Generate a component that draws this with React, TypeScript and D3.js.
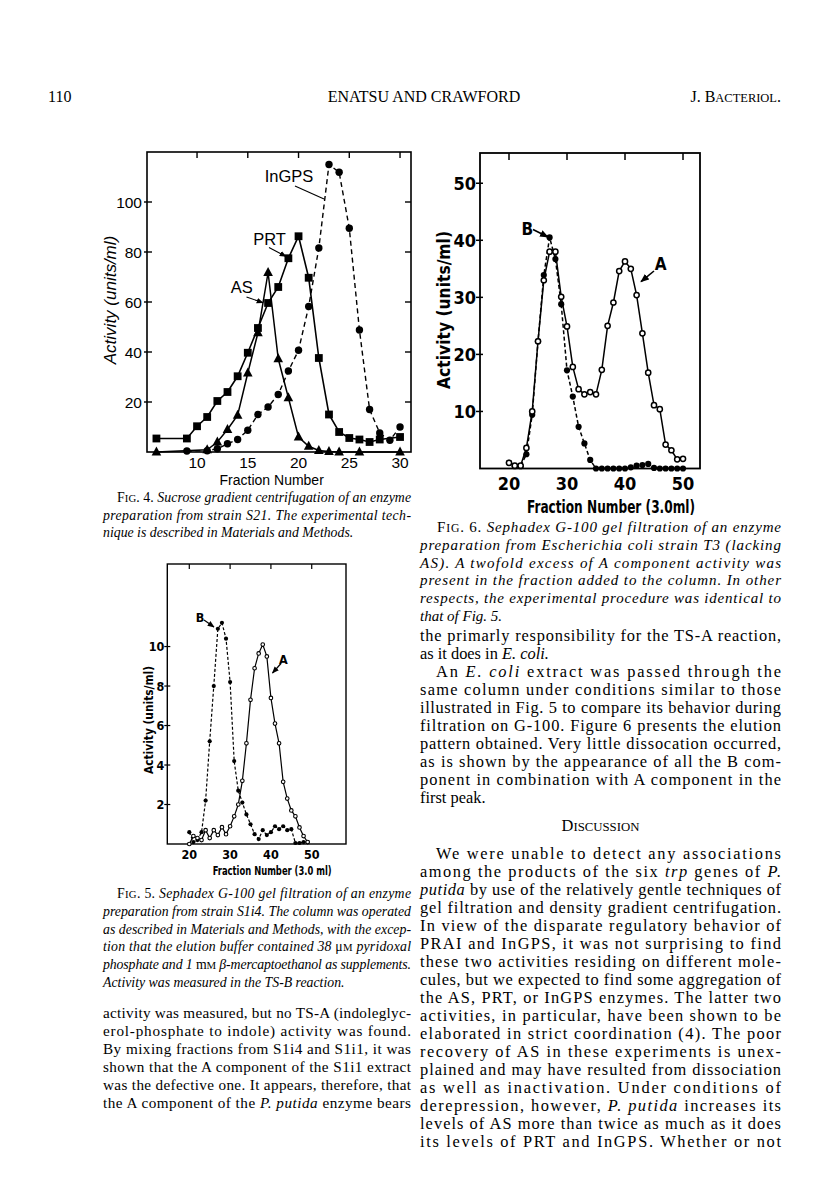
import React from 'react';
import * as d3 from 'd3';

// ---------- Fig. 4 data (sucrose gradient) ----------
const fig4XTicks = [10, 15, 20, 25, 30];
const fig4YTicks = [20, 40, 60, 80, 100];
const asFrac = [6, 11, 12, 13, 14, 15, 16, 17, 18, 19, 20, 21, 22, 23, 24, 26, 30];
const asVal = [0, 0.9, 4, 9, 14.7, 31.6, 47.7, 71.8, 37.3, 21.7, 6, 2.3, 0.6, 0.2, 0, 0, 0];
const prtFrac = [6, 9, 10, 11, 12, 13, 14, 15, 16, 17, 18, 19, 20, 21, 22, 23, 24, 25, 26, 27, 28, 30];
const prtVal = [5.4, 5.4, 10.3, 14, 20.4, 24, 30.3, 39.7, 49.6, 59.6, 66, 77.5, 86.3, 69.7, 37.6, 15, 8, 5.6, 5, 4, 5, 6];
const ingpsFrac = [9, 11, 12, 13, 14, 15, 16, 17, 18, 19, 20, 21, 22, 23, 24, 25, 26, 27, 28, 29, 30];
const ingpsVal = [0.4, 0.5, 1.3, 3.3, 5, 8.7, 15, 18, 23, 32.4, 40.7, 58.2, 81.6, 115, 111.9, 89.5, 48.8, 17, 7.6, 4.7, 10];

// ---------- Fig. 6 data (E. coli, G-100) ----------
const fig6XTicks = [20, 30, 40, 50];
const fig6YTicks = [10, 20, 30, 40, 50];
const fig6Frac = [20, 21, 22, 23, 24, 25, 26, 27, 28, 29, 30, 31, 32, 33, 34, 35, 36, 37, 38, 39, 40, 41, 42, 43, 44, 45, 46, 47, 48, 49, 50];
const fig6A = [1.0, 0.5, 0.5, 3.6, 10, 22.3, 33, 38, 38, 30.1, 24.9, 17.8, 13.9, 13, 13.4, 13, 17.3, 25, 29.1, 34.6, 36.3, 35, 30.4, 23.7, 16.8, 11.1, 10.4, 4.2, 3.2, 1.6, 1.7];
const fig6B = [1.0, 0.4, 0.4, 2.5, 9.4, 22.3, 33.9, 40.5, 36.7, 28.8, 17.2, 12.6, 7.3, 4.4, 1.5, 0, 0, 0, 0, 0, 0, 0.2, 0.5, 0.6, 0.8, 0.1, 0, 0, 0, 0, 0];

// ---------- Fig. 5 data (strain S1i4, G-100) ----------
const fig5XTicks = [20, 30, 40, 50];
const fig5YTicks = [2, 4, 6, 8, 10];
const fig5Frac = [20, 21, 22, 23, 24, 25, 26, 27, 28, 29, 30, 31, 32, 33, 34, 35, 36, 37, 38, 39, 40, 41, 42, 43, 44, 45, 46, 47, 48, 49];
const fig5A = [0.0, 0.4, 0.3, 0.2, 0.7, 0.3, 0.7, 0.45, 0.85, 0.5, 0.9, 1.4, 2.0, 3.2, 5.1, 7.3, 8.9, 9.65, 10.1, 9.5, 7.4, 6.1, 5.1, 3.15, 2.3, 1.7, 1.4, 0.84, 0.4, 0.1];
const fig5B = [0.6, 0.1, 0.2, 0.6, 2.2, 5.2, 8.0, 10.9, 11.2, 10.4, 8.2, 4.2, 2.7, 2.1, 1.5, 1.0, 0.5, 0.25, 0.7, 0.45, 0.6, 0.9, 0.75, 0.9, 0.7, 0.75, 0.05, 0.05, 0.1, 0.1];

// ---------- Text ----------
const header = ['110', 'ENATSU AND CRAWFORD', 'J. B{ACTERIOL}.'];
const fig4Caption = [
  '*F{IG}. 4.* Sucrose gradient centrifugation of an enzyme',
  'preparation from strain S21. The experimental tech-',
  'nique is described in Materials and Methods.',
];
const fig5Caption = [
  '*F{IG}. 5.* Sephadex G-100 gel filtration of an enzyme',
  'preparation from strain S1i4. The column was operated',
  'as described in Materials and Methods, with the excep-',
  'tion that the elution buffer contained 38 *\u03bc{M}* pyridoxal',
  'phosphate and 1 *m{M}* \u03b2-mercaptoethanol as supplements.',
  'Activity was measured in the TS-B reaction.',
];
const fig6Caption = [
  '*F{IG}. 6.* Sephadex G-100 gel filtration of an enzyme',
  'preparation from Escherichia coli strain T3 (lacking',
  'AS). A twofold excess of A component activity was',
  'present in the fraction added to the column. In other',
  'respects, the experimental procedure was identical to',
  'that of Fig. 5.',
];
const leftBody = [
  'activity was measured, but no TS-A (indoleglyc-',
  'erol-phosphate to indole) activity was found.',
  'By mixing fractions from S1i4 and S1i1, it was',
  'shown that the A component of the S1i1 extract',
  'was the defective one. It appears, therefore, that',
  'the A component of the *P. putida* enzyme bears',
];
const rightBody1 = [
  'the primarly responsibility for the TS-A reaction,',
  'as it does in *E. coli.*',
  'An *E. coli* extract was passed through the',
  'same column under conditions similar to those',
  'illustrated in Fig. 5 to compare its behavior during',
  'filtration on G-100. Figure 6 presents the elution',
  'pattern obtained. Very little dissocation occurred,',
  'as is shown by the appearance of all the B com-',
  'ponent in combination with A component in the',
  'first peak.',
];
const discussionTitle = 'D{ISCUSSION}';
const rightBody2 = [
  'We were unable to detect any associations',
  'among the products of the six *trp* genes of *P.*',
  '*putida* by use of the relatively gentle techniques of',
  'gel filtration and density gradient centrifugation.',
  'In view of the disparate regulatory behavior of',
  'PRAI and InGPS, it was not surprising to find',
  'these two activities residing on different mole-',
  'cules, but we expected to find some aggregation of',
  'the AS, PRT, or InGPS enzymes. The latter two',
  'activities, in particular, have been shown to be',
  'elaborated in strict coordination (4). The poor',
  'recovery of AS in these experiments is unex-',
  'plained and may have resulted from dissociation',
  'as well as inactivation. Under conditions of',
  'derepression, however, *P. putida* increases its',
  'levels of AS more than twice as much as it does',
  'its levels of PRT and InGPS. Whether or not',
];

const SERIF = "'Liberation Serif', 'Times New Roman', serif";
const SANS = "'Liberation Sans', Arial, sans-serif";
const COND = "'Liberation Sans Narrow', 'DejaVu Sans Condensed', 'Roboto', sans-serif";

type Seg = { text: string; italic: boolean; sc: boolean };
function parse(s: string, baseItalic: boolean): Seg[] {
  const out: Seg[] = [];
  let italic = baseItalic;
  let sc = false;
  let buf = '';
  const flush = () => {
    if (buf) out.push({ text: buf, italic, sc });
    buf = '';
  };
  for (const ch of s) {
    if (ch === '*') { flush(); italic = !italic; }
    else if (ch === '{') { flush(); sc = true; }
    else if (ch === '}') { flush(); sc = false; }
    else buf += ch;
  }
  flush();
  return out;
}

function Line(props: { s: string; x: number; y: number; x1?: number; fs: number; italic?: boolean; anchor?: string }) {
  const { s, x, y, x1, fs, italic, anchor } = props;
  const segs = parse(s, !!italic);
  return (
    <text
      x={x}
      y={y}
      fontFamily={SERIF}
      fontSize={fs}
      textAnchor={anchor || 'start'}
      textLength={x1 !== undefined ? x1 - x : undefined}
      lengthAdjust="spacing"
      style={{ whiteSpace: 'pre' }}
    >
      {segs.map((g, i) => (
        <tspan key={i} fontStyle={g.italic ? 'italic' : 'normal'} fontSize={g.sc ? fs * 0.78 : undefined}>
          {g.text}
        </tspan>
      ))}
    </text>
  );
}

function Fig4() {
  const x = d3.scaleLinear().domain([5.07, 31.08]).range([147, 411]);
  const y = d3.scaleLinear().domain([0, 120]).range([452, 152]);
  const line = d3.line<[number, number]>().x((d) => x(d[0])).y((d) => y(d[1]));
  const as = asFrac.map((f, i) => [f, asVal[i]] as [number, number]);
  const prt = prtFrac.map((f, i) => [f, prtVal[i]] as [number, number]);
  const ing = ingpsFrac.map((f, i) => [f, ingpsVal[i]] as [number, number]);
  const [x0, x1] = x.range();
  const [y0, y1] = y.range();
  return (
    <g>
      <rect x={x0} y={y1} width={x1 - x0} height={y0 - y1} fill="none" stroke="#000" strokeWidth={1.6} />
      {fig4YTicks.map((t) => (
        <g key={t}>
          <line x1={x0 - 3} x2={x0 + 5} y1={y(t)} y2={y(t)} stroke="#000" strokeWidth={1.4} />
          <line x1={x1} x2={x1 - 6} y1={y(t)} y2={y(t)} stroke="#000" strokeWidth={1.4} />
          <text x={x0 - 5} y={y(t) + 5.5} textAnchor="end" fontFamily={SANS} fontSize={15.5}>{t}</text>
        </g>
      ))}
      {fig4XTicks.map((t) => (
        <g key={t}>
          <line x1={x(t)} x2={x(t)} y1={y1} y2={y1 + 6} stroke="#000" strokeWidth={1.4} />
          <text x={x(t)} y={468} textAnchor="middle" fontFamily={SANS} fontSize={15.5}>{t}</text>
        </g>
      ))}
      <text x={271.7} y={485} textAnchor="middle" fontFamily={SANS} fontSize={14}>Fraction Number</text>
      <text transform="translate(116,300) rotate(-90)" textAnchor="middle" fontFamily={SANS} fontStyle="italic" fontSize={17}>Activity (units/ml)</text>
      <path d={line(ing) || ''} fill="none" stroke="#000" strokeWidth={1.4} strokeDasharray="5,3.5" />
      <path d={line(prt) || ''} fill="none" stroke="#000" strokeWidth={1.6} />
      <path d={line(as) || ''} fill="none" stroke="#000" strokeWidth={1.5} />
      {ing.map((d, i) => (
        <circle key={i} cx={x(d[0])} cy={y(d[1])} r={3.7} fill="#000" />
      ))}
      {prt.map((d, i) => (
        <rect key={i} x={x(d[0]) - 3.9} y={y(d[1]) - 3.9} width={7.8} height={7.8} fill="#000" />
      ))}
      {as.map((d, i) => (
        <path key={i} transform={`translate(${x(d[0])},${y(d[1])})`} d="M0,-5.4 L4.8,3.5 L-4.8,3.5 Z" fill="#000" />
      ))}
      <text x={289} y={182} textAnchor="middle" fontFamily={SANS} fontSize={16.5}>InGPS</text>
      <line x1={295} y1={186} x2={324} y2={199} stroke="#000" strokeWidth={1.1} />
      <text x={269.5} y={245} textAnchor="middle" fontFamily={SANS} fontSize={16.5}>PRT</text>
      <line x1={269} y1={247.5} x2={286} y2={256.5} stroke="#000" strokeWidth={1.1} markerEnd="url(#arrS)" />
      <text x={241.7} y={293} textAnchor="middle" fontFamily={SANS} fontSize={16.5}>AS</text>
      <line x1={246.5} y1={297} x2={263} y2={302.7} stroke="#000" strokeWidth={1.1} markerEnd="url(#arrS)" />
    </g>
  );
}

function Fig6() {
  const x = d3.scaleLinear().domain([15, 52.93]).range([480, 700]);
  const y = d3.scaleLinear().domain([0, 55.3]).range([468.5, 153]);
  const line = d3.line<number>().x((_, i) => x(fig6Frac[i])).y((d) => y(d));
  const [x0, x1] = x.range();
  const [y0, y1] = y.range();
  return (
    <g>
      <rect x={x0} y={y1} width={x1 - x0} height={y0 - y1} fill="none" stroke="#000" strokeWidth={1.8} />
      {fig6YTicks.map((t) => (
        <g key={t}>
          <line x1={x0 - 4} x2={x0 + 3} y1={y(t)} y2={y(t)} stroke="#000" strokeWidth={1.5} />
          <text x={x0 - 4} y={y(t) + 6.5} textAnchor="end" fontFamily={COND} fontWeight="bold" fontSize={18} style={{ fontStretch: 'condensed' }}>{t}</text>
        </g>
      ))}
      {fig6XTicks.map((t) => (
        <g key={t}>
          <line x1={x(t)} x2={x(t)} y1={y1} y2={y1 + 7} stroke="#000" strokeWidth={1.5} />
          <text x={x(t)} y={490} textAnchor="middle" fontFamily={COND} fontWeight="bold" fontSize={18} style={{ fontStretch: 'condensed' }}>{t}</text>
        </g>
      ))}
      <text x={527} y={513} fontFamily={COND} fontWeight="bold" fontSize={17} style={{ fontStretch: 'condensed' }} textLength={168} lengthAdjust="spacingAndGlyphs">Fraction Number (3.0ml)</text>
      <text transform="translate(450,310) rotate(-90)" textAnchor="middle" fontFamily={COND} fontWeight="bold" fontSize={17} style={{ fontStretch: 'condensed' }} textLength={158} lengthAdjust="spacingAndGlyphs">Activity (units/ml)</text>
      <path d={line(fig6B) || ''} fill="none" stroke="#000" strokeWidth={1.5} strokeDasharray="4,2.5" />
      <path d={line(fig6A) || ''} fill="none" stroke="#000" strokeWidth={1.5} />
      {fig6B.map((d, i) => (
        <circle key={'b' + i} cx={x(fig6Frac[i])} cy={y(d)} r={3.1} fill="#000" />
      ))}
      {fig6A.map((d, i) => (
        <circle key={'a' + i} cx={x(fig6Frac[i])} cy={y(d)} r={2.6} fill="#fff" stroke="#000" strokeWidth={1.5} />
      ))}
      <text x={527.3} y={234.5} textAnchor="middle" fontFamily={COND} fontWeight="bold" fontSize={17} style={{ fontStretch: 'condensed' }}>B</text>
      <line x1={533} y1={229.5} x2={548} y2={237} stroke="#000" strokeWidth={1.6} markerEnd="url(#arrL)" />
      <text x={660.7} y={269.5} textAnchor="middle" fontFamily={COND} fontWeight="bold" fontSize={17} style={{ fontStretch: 'condensed' }}>A</text>
      <line x1={654} y1={271} x2={641} y2={281.7} stroke="#000" strokeWidth={1.6} markerEnd="url(#arrL)" />
    </g>
  );
}

function Fig5() {
  const x = d3.scaleLinear().domain([14.61, 58.4]).range([167.3, 346]);
  const y = d3.scaleLinear().domain([0, 14.18]).range([844, 564]);
  const line = d3.line<number>().x((_, i) => x(fig5Frac[i])).y((d) => y(d));
  const [x0, x1] = x.range();
  const [y0, y1] = y.range();
  return (
    <g>
      <rect x={x0} y={y1} width={x1 - x0} height={y0 - y1} fill="none" stroke="#000" strokeWidth={1.4} />
      {fig5YTicks.map((t) => (
        <g key={t}>
          <line x1={x0 - 3} x2={x0 + 3} y1={y(t)} y2={y(t)} stroke="#000" strokeWidth={1.2} />
          <text x={x0 - 3} y={y(t) + 4.5} textAnchor="end" fontFamily={COND} fontWeight="bold" fontSize={12.5} style={{ fontStretch: 'condensed' }}>{t}</text>
        </g>
      ))}
      {fig5XTicks.map((t) => (
        <g key={t}>
          <line x1={x(t)} x2={x(t)} y1={y1} y2={y1 + 5} stroke="#000" strokeWidth={1.2} />
          <text x={x(t)} y={859} textAnchor="middle" fontFamily={COND} fontWeight="bold" fontSize={12.5} style={{ fontStretch: 'condensed' }}>{t}</text>
        </g>
      ))}
      <text x={212.7} y={875} fontFamily={COND} fontWeight="bold" fontSize={12.5} style={{ fontStretch: 'condensed' }} textLength={119} lengthAdjust="spacingAndGlyphs">Fraction Number (3.0 ml)</text>
      <text transform="translate(152.5,720) rotate(-90)" textAnchor="middle" fontFamily={COND} fontWeight="bold" fontSize={12.5} style={{ fontStretch: 'condensed' }} textLength={108} lengthAdjust="spacingAndGlyphs">Activity (units/ml)</text>
      <path d={line(fig5B) || ''} fill="none" stroke="#000" strokeWidth={1.2} strokeDasharray="3,2" />
      <path d={line(fig5A) || ''} fill="none" stroke="#000" strokeWidth={1.2} />
      {fig5B.map((d, i) => (
        <circle key={'b' + i} cx={x(fig5Frac[i])} cy={y(d)} r={2.1} fill="#000" />
      ))}
      {fig5A.map((d, i) => (
        <circle key={'a' + i} cx={x(fig5Frac[i])} cy={y(d)} r={1.8} fill="#fff" stroke="#000" strokeWidth={1.1} />
      ))}
      <text x={200} y={622} textAnchor="middle" fontFamily={COND} fontWeight="bold" fontSize={12.5} style={{ fontStretch: 'condensed' }}>B</text>
      <line x1={204} y1={620} x2={214} y2={627} stroke="#000" strokeWidth={1.2} markerEnd="url(#arrS)" />
      <text x={283.3} y={664} textAnchor="middle" fontFamily={COND} fontWeight="bold" fontSize={12.5} style={{ fontStretch: 'condensed' }}>A</text>
      <line x1={281} y1={663.5} x2={272.5} y2={673} stroke="#000" strokeWidth={1.2} markerEnd="url(#arrS)" />
    </g>
  );
}

export default function App() {
  const LX0 = 103, LX1 = 411, RX0 = 420, RX1 = 781;
  const lCapFs = 13.8, rCapFs = 15, lBodyFs = 15.2, rBodyFs = 16.4;
  return (
    <svg width={816} height={1194} style={{ position: 'absolute', left: 0, top: 0, background: '#fff' }}>
      <defs>
        <marker id="arrS" viewBox="0 0 10 8" refX={9} refY={4} markerWidth={7} markerHeight={6} markerUnits="userSpaceOnUse" orient="auto">
          <path d="M0,0 L10,4 L0,8 Z" fill="#000" />
        </marker>
        <marker id="arrL" viewBox="0 0 10 8" refX={9} refY={4} markerWidth={9} markerHeight={7} markerUnits="userSpaceOnUse" orient="auto">
          <path d="M0,0 L10,4 L0,8 Z" fill="#000" />
        </marker>
      </defs>
      <rect x={0} y={0} width={816} height={1194} fill="#fff" />
      {/* header */}
      <Line s={header[0]} x={48} y={102} fs={16} />
      <Line s={header[1]} x={424} y={102} fs={16} anchor="middle" />
      <Line s={header[2]} x={RX1} y={102} fs={16} anchor="end" />

      <Fig4 />
      <Fig6 />
      <Fig5 />

      {fig4Caption.map((s, i) => (
        <Line key={i} s={s} x={i === 0 ? 117 : LX0} x1={i < fig4Caption.length - 1 ? LX1 : undefined} y={502 + i * 17.5} fs={lCapFs} italic />
      ))}
      {fig5Caption.map((s, i) => (
        <Line key={i} s={s} x={i === 0 ? 117 : LX0} x1={i < fig5Caption.length - 1 ? LX1 : undefined} y={898 + i * 17.8} fs={lCapFs} italic />
      ))}
      {leftBody.map((s, i) => (
        <Line key={i} s={s} x={LX0} x1={LX1} y={1018 + i * 18} fs={lBodyFs} />
      ))}
      {fig6Caption.map((s, i) => (
        <Line key={i} s={s} x={i === 0 ? 437 : RX0} x1={i < fig6Caption.length - 1 ? RX1 : undefined} y={532 + i * 17.8} fs={rCapFs} italic />
      ))}
      {rightBody1.map((s, i) => (
        <Line key={i} s={s} x={i === 2 ? 436 : RX0} x1={i === 1 || i === 9 ? undefined : RX1} y={641 + i * 18} fs={rBodyFs} />
      ))}
      <Line s={discussionTitle} x={(RX0 + RX1) / 2} y={831} fs={rBodyFs} anchor="middle" />
      {rightBody2.map((s, i) => (
        <Line key={i} s={s} x={i === 0 ? 436 : RX0} x1={RX1} y={859 + i * 18} fs={rBodyFs} />
      ))}
    </svg>
  );
}
